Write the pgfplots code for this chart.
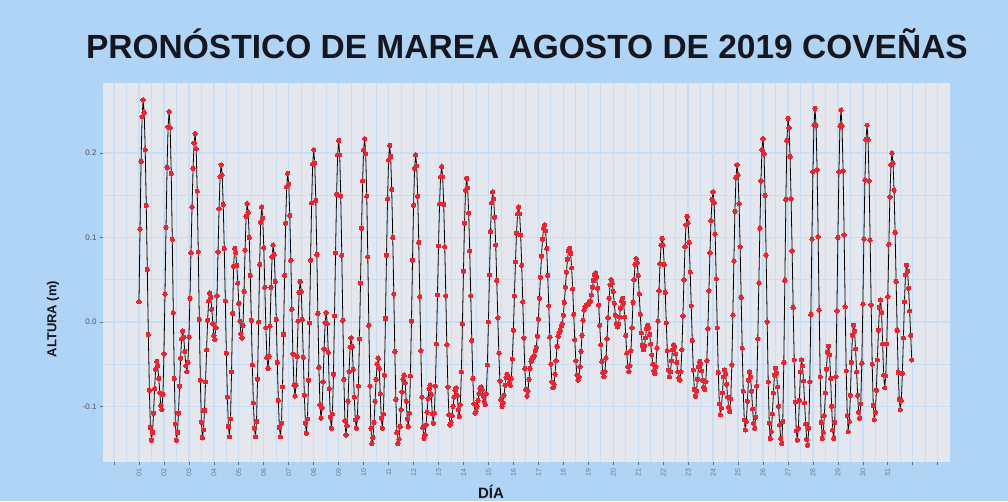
\documentclass[border=0pt]{standalone}
\usepackage{pgfplots}
\pgfplotsset{compat=1.18}
\usepackage{fontspec}
\setmainfont{Liberation Sans}
\definecolor{bgblue}{RGB}{176,212,246}
\definecolor{panelbg}{RGB}{228,231,238}
\definecolor{gridcol}{RGB}{200,222,245}
\definecolor{tickcol}{RGB}{100,108,125}
\definecolor{ylabcol}{RGB}{80,84,95}
\definecolor{xlabcol}{RGB}{100,122,155}
\definecolor{markred}{RGB}{232,38,50}
\definecolor{titlecol}{RGB}{22,22,30}
\begin{document}
\begin{tikzpicture}[x=1pt,y=1pt]
\fill[bgblue] (0,0) rectangle (1008,501);
\pgfplotstableread{
h v
0 0.024
1 0.110
2 0.190
3 0.243
4 0.263
5 0.248
6 0.204
7 0.138
8 0.062
9 -0.015
10 -0.081
11 -0.125
12 -0.140
13 -0.131
14 -0.108
15 -0.079
16 -0.056
17 -0.047
18 -0.052
19 -0.067
20 -0.084
21 -0.099
22 -0.104
23 -0.086
24 -0.038
25 0.033
26 0.112
27 0.183
28 0.231
29 0.249
30 0.230
31 0.176
32 0.098
33 0.011
34 -0.067
35 -0.121
36 -0.140
37 -0.131
38 -0.108
39 -0.076
40 -0.043
41 -0.020
42 -0.011
43 -0.018
44 -0.035
45 -0.052
46 -0.059
47 -0.048
48 -0.018
49 0.028
50 0.082
51 0.136
52 0.182
53 0.212
54 0.223
55 0.205
56 0.155
57 0.083
58 0.003
59 -0.069
60 -0.119
61 -0.137
62 -0.128
63 -0.105
64 -0.071
65 -0.033
66 0.002
67 0.025
68 0.034
69 0.029
70 0.015
71 -0.002
72 -0.016
73 -0.021
74 -0.007
75 0.031
76 0.083
77 0.134
78 0.172
79 0.186
80 0.174
81 0.139
82 0.087
83 0.025
84 -0.037
85 -0.089
86 -0.124
87 -0.136
88 -0.115
89 -0.059
90 0.010
91 0.066
92 0.087
93 0.082
94 0.067
95 0.046
96 0.022
97 0.001
98 -0.014
99 -0.019
100 -0.004
101 0.036
102 0.085
103 0.125
104 0.140
105 0.130
106 0.100
107 0.055
108 0.002
109 -0.051
110 -0.096
111 -0.126
112 -0.136
113 -0.118
114 -0.068
115 0.000
116 0.068
117 0.118
118 0.136
119 0.123
120 0.088
121 0.041
122 -0.007
123 -0.042
124 -0.055
125 -0.041
126 -0.005
127 0.041
128 0.077
129 0.091
130 0.080
131 0.048
132 0.003
133 -0.048
134 -0.093
135 -0.125
136 -0.136
137 -0.120
138 -0.077
139 -0.015
140 0.055
141 0.117
142 0.160
143 0.176
144 0.163
145 0.126
146 0.073
147 0.015
148 -0.038
149 -0.075
150 -0.088
151 -0.075
152 -0.041
153 0.001
154 0.035
155 0.048
156 0.036
157 0.003
158 -0.042
159 -0.087
160 -0.120
161 -0.132
162 -0.115
163 -0.069
164 -0.001
165 0.073
166 0.141
167 0.187
168 0.204
169 0.188
170 0.144
171 0.080
172 0.010
173 -0.054
174 -0.098
175 -0.114
176 -0.102
177 -0.071
178 -0.032
179 -0.001
180 0.011
181 -0.002
182 -0.036
183 -0.079
184 -0.113
185 -0.126
186 -0.109
187 -0.062
188 0.007
189 0.082
190 0.151
191 0.198
192 0.215
193 0.198
194 0.149
195 0.079
196 0.002
197 -0.068
198 -0.117
199 -0.134
200 -0.123
201 -0.094
202 -0.059
203 -0.030
204 -0.019
205 -0.029
206 -0.056
207 -0.089
208 -0.116
209 -0.126
210 -0.113
211 -0.076
212 -0.020
213 0.046
214 0.111
215 0.167
216 0.204
217 0.217
218 0.199
219 0.149
220 0.077
221 -0.004
222 -0.076
223 -0.126
224 -0.144
225 -0.137
226 -0.119
227 -0.094
228 -0.068
229 -0.050
230 -0.043
231 -0.055
232 -0.085
233 -0.114
234 -0.126
235 -0.109
236 -0.063
237 0.004
238 0.079
239 0.146
240 0.192
241 0.209
242 0.196
243 0.157
244 0.100
245 0.033
246 -0.035
247 -0.092
248 -0.131
249 -0.144
250 -0.139
251 -0.124
252 -0.104
253 -0.083
254 -0.068
255 -0.063
256 -0.072
257 -0.094
258 -0.115
259 -0.124
260 -0.108
261 -0.064
262 0.001
263 0.073
264 0.138
265 0.182
266 0.198
267 0.185
268 0.149
269 0.094
270 0.030
271 -0.034
272 -0.089
273 -0.125
274 -0.138
275 -0.134
276 -0.122
277 -0.107
278 -0.091
279 -0.079
280 -0.075
281 -0.086
282 -0.109
283 -0.120
284 -0.108
285 -0.076
286 -0.026
287 0.032
288 0.090
289 0.140
290 0.172
291 0.184
292 0.172
293 0.139
294 0.089
295 0.031
296 -0.027
297 -0.077
298 -0.110
299 -0.122
300 -0.119
301 -0.111
302 -0.100
303 -0.089
304 -0.081
305 -0.078
306 -0.087
307 -0.104
308 -0.112
309 -0.098
310 -0.059
311 -0.002
312 0.060
313 0.117
314 0.156
315 0.170
316 0.159
317 0.129
318 0.084
319 0.031
320 -0.022
321 -0.067
322 -0.097
323 -0.108
324 -0.106
325 -0.100
326 -0.093
327 -0.085
328 -0.079
329 -0.077
330 -0.080
331 -0.088
332 -0.095
333 -0.098
334 -0.085
335 -0.051
336 0.000
337 0.056
338 0.107
339 0.141
340 0.154
341 0.146
342 0.124
343 0.091
344 0.049
345 0.005
346 -0.037
347 -0.070
348 -0.092
349 -0.100
350 -0.096
351 -0.087
352 -0.075
353 -0.066
354 -0.062
355 -0.065
356 -0.072
357 -0.075
358 -0.067
359 -0.044
360 -0.010
361 0.031
362 0.071
363 0.105
364 0.128
365 0.136
366 0.128
367 0.103
368 0.067
369 0.024
370 -0.019
371 -0.055
372 -0.080
373 -0.088
374 -0.082
375 -0.068
376 -0.055
377 -0.047
378 -0.043
379 -0.042
380 -0.040
381 -0.034
382 -0.030
383 -0.017
384 0.003
385 0.028
386 0.053
387 0.078
388 0.098
389 0.111
390 0.115
391 0.108
392 0.087
393 0.055
394 0.019
395 -0.018
396 -0.050
397 -0.071
398 -0.078
399 -0.074
400 -0.062
401 -0.046
402 -0.029
403 -0.017
404 -0.013
405 -0.010
406 -0.005
407 -0.002
408 0.008
409 0.023
410 0.041
411 0.059
412 0.074
413 0.084
414 0.087
415 0.081
416 0.064
417 0.039
418 0.009
419 -0.021
420 -0.046
421 -0.063
422 -0.069
423 -0.065
424 -0.053
425 -0.035
426 -0.016
427 0.002
428 0.014
429 0.018
430 0.020
431 0.020
432 0.021
433 0.023
434 0.025
435 0.032
436 0.041
437 0.049
438 0.056
439 0.058
440 0.053
441 0.040
442 0.020
443 -0.004
444 -0.027
445 -0.047
446 -0.060
447 -0.065
448 -0.059
449 -0.043
450 -0.020
451 0.005
452 0.028
453 0.044
454 0.050
455 0.046
456 0.036
457 0.022
458 0.008
459 -0.002
460 -0.006
461 -0.003
462 0.006
463 0.016
464 0.025
465 0.028
466 0.022
467 0.006
468 -0.016
469 -0.037
470 -0.053
471 -0.059
472 -0.052
473 -0.034
474 -0.007
475 0.023
476 0.050
477 0.068
478 0.075
479 0.070
480 0.055
481 0.033
482 0.009
483 -0.013
484 -0.028
485 -0.033
486 -0.029
487 -0.019
488 -0.008
489 -0.004
490 -0.007
491 -0.015
492 -0.026
493 -0.039
494 -0.050
495 -0.058
496 -0.061
497 -0.053
498 -0.031
499 0.001
500 0.037
501 0.069
502 0.091
503 0.099
504 0.091
505 0.068
506 0.035
507 -0.001
508 -0.034
509 -0.057
510 -0.065
511 -0.059
512 -0.046
513 -0.033
514 -0.027
515 -0.030
516 -0.038
517 -0.048
518 -0.059
519 -0.066
520 -0.069
521 -0.059
522 -0.033
523 0.007
524 0.050
525 0.089
526 0.115
527 0.125
528 0.117
529 0.094
530 0.059
531 0.019
532 -0.022
533 -0.057
534 -0.080
535 -0.088
536 -0.082
537 -0.068
538 -0.053
539 -0.047
540 -0.050
541 -0.058
542 -0.069
543 -0.077
544 -0.080
545 -0.071
546 -0.046
547 -0.008
548 0.037
549 0.082
550 0.120
551 0.145
552 0.154
553 0.141
554 0.104
555 0.051
556 -0.007
557 -0.060
558 -0.097
559 -0.110
560 -0.102
561 -0.084
562 -0.065
563 -0.057
564 -0.062
565 -0.074
566 -0.089
567 -0.101
568 -0.106
569 -0.091
570 -0.051
571 0.008
572 0.072
573 0.131
574 0.171
575 0.186
576 0.174
577 0.140
578 0.089
579 0.029
580 -0.031
581 -0.082
582 -0.116
583 -0.128
584 -0.118
585 -0.094
586 -0.069
587 -0.059
588 -0.065
589 -0.082
590 -0.103
591 -0.120
592 -0.126
593 -0.113
594 -0.076
595 -0.020
596 0.046
597 0.111
598 0.167
599 0.204
600 0.217
601 0.199
602 0.150
603 0.079
604 0.000
605 -0.071
606 -0.120
607 -0.138
608 -0.130
609 -0.109
610 -0.084
611 -0.063
612 -0.055
613 -0.061
614 -0.077
615 -0.100
616 -0.122
617 -0.138
618 -0.144
619 -0.118
620 -0.048
621 0.049
622 0.145
623 0.215
624 0.241
625 0.230
626 0.196
627 0.146
628 0.084
629 0.017
630 -0.045
631 -0.095
632 -0.129
633 -0.140
634 -0.126
635 -0.093
636 -0.059
637 -0.045
638 -0.052
639 -0.070
640 -0.096
641 -0.121
642 -0.139
643 -0.146
644 -0.126
645 -0.071
646 0.009
647 0.098
648 0.178
649 0.233
650 0.253
651 0.233
652 0.180
653 0.101
654 0.014
655 -0.065
656 -0.119
657 -0.138
658 -0.131
659 -0.111
660 -0.084
661 -0.056
662 -0.036
663 -0.029
664 -0.039
665 -0.067
666 -0.100
667 -0.128
668 -0.138
669 -0.119
670 -0.065
671 0.013
672 0.100
673 0.178
674 0.232
675 0.251
676 0.232
677 0.179
678 0.103
679 0.018
680 -0.058
681 -0.111
682 -0.130
683 -0.118
684 -0.087
685 -0.048
686 -0.016
687 -0.004
688 -0.011
689 -0.032
690 -0.059
691 -0.087
692 -0.107
693 -0.114
694 -0.097
695 -0.049
696 0.021
697 0.098
698 0.168
699 0.216
700 0.233
701 0.216
702 0.167
703 0.097
704 0.020
705 -0.050
706 -0.099
707 -0.116
708 -0.107
709 -0.081
710 -0.045
711 -0.010
712 0.017
713 0.026
714 0.011
715 -0.026
716 -0.063
717 -0.078
718 -0.064
719 -0.026
720 0.030
721 0.092
722 0.148
723 0.186
724 0.200
725 0.188
726 0.156
727 0.106
728 0.048
729 -0.010
730 -0.060
731 -0.092
732 -0.104
733 -0.093
734 -0.061
735 -0.019
736 0.024
737 0.056
738 0.067
739 0.060
740 0.040
741 0.013
742 -0.016
743 -0.045
}\tide
\begin{axis}[
  at={(103pt,39pt)}, anchor=south west,
  width=847pt, height=379pt, scale only axis,
  xmin=-34.6, xmax=779.8,
  ymin=-0.166, ymax=0.283,
  axis background/.style={fill=panelbg},
  axis line style={draw=none},
  xtick={-24,0,...,768},
  xticklabels={{},01,02,03,04,05,06,07,08,09,10,11,12,13,14,15,16,17,18,19,20,21,22,23,24,25,26,27,28,29,30,31,{},{}},
  ytick={-0.1,0,0.1,0.2},
  yticklabels={-0.1,0.0,0.1,0.2},
  minor x tick num=1,
  minor y tick num=1,
  grid=both,
  major grid style={draw=gridcol, line width=1.3pt},
  minor grid style={draw=gridcol, line width=0.8pt},
  tick pos=left,
  tick align=outside,
  major tick length=3pt,
  minor tick length=0pt,
  tick style={draw=tickcol, line width=0.7pt},
  x tick label style={rotate=90, anchor=east, font=\fontsize{7}{8}\selectfont, text=xlabcol},
  y tick label style={font=\fontsize{8}{9}\selectfont, text=ylabcol},
  clip=true,
]
\addplot[color=markred, only marks, mark=*, mark size=2.2pt, mark options={solid, draw=markred, fill=markred, line width=0pt}] table[x=h, y=v] {\tide};
\addplot[color=black, line width=0.8pt, no marks] table[x=h, y=v] {\tide};
\end{axis}
\node[font=\fontsize{33.5}{36}\selectfont\bfseries, text=titlecol, anchor=base] at (527,442) {PRONÓSTICO DE MAREA AGOSTO DE 2019 COVEÑAS};
\node[font=\fontsize{13}{15}\selectfont\bfseries, text=titlecol, rotate=90] at (53,182) {ALTURA (m)};
\node[font=\fontsize{15}{17}\selectfont\bfseries, text=titlecol] at (491,9) {DÍA};
\pgfresetboundingbox
\useasboundingbox (0,0) rectangle (1008,501);
\end{tikzpicture}
\end{document}
